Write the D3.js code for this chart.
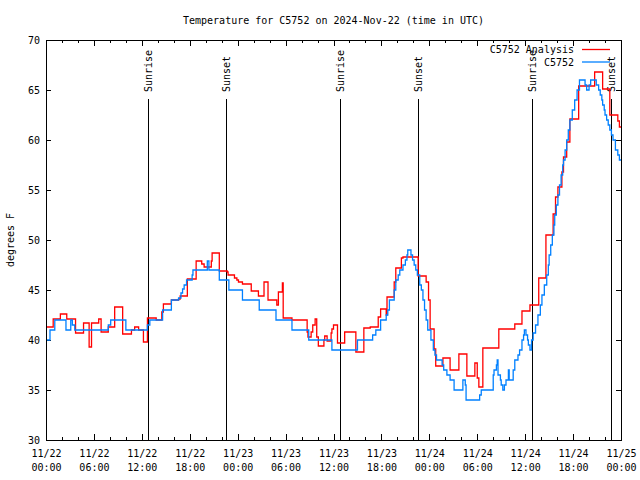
<!DOCTYPE html>
<html><head><meta charset="utf-8">
<script src="https://cdn.jsdelivr.net/npm/d3@7"></script>
<style>
body{margin:0;background:#fff}
svg{display:block}
text{font-family:"DejaVu Sans Mono",monospace;font-size:10px;fill:#000}
</style></head>
<body><svg id="c" width="640" height="480"></svg>
<script>
// ---- data (hours since 2024-11-22 00:00 UTC, degrees F) ----
const titleText = "Temperature for C5752 on 2024-Nov-22 (time in UTC)";
const yLabel = "degrees F";
const majorHours = [0,6,12,18,24,30,36,42,48,54,60,66,72];
const dateLabels = ["11/22","11/22","11/22","11/22","11/23","11/23","11/23","11/23","11/24","11/24","11/24","11/24","11/25"];
const timeLabels = ["00:00","06:00","12:00","18:00","00:00","06:00","12:00","18:00","00:00","06:00","12:00","18:00","00:00"];
const yTicks = [30,35,40,45,50,55,60,65,70];
const sunLabels = ["Sunrise","Sunset","Sunrise","Sunset","Sunrise","Sunset"];
const sunHours = [12.8,22.6,36.8,46.6,60.9,70.7];
const seriesNames = ["C5752 Analysis","C5752"];
const seriesColors = ["#ff0000","#0080ff"];

const analysis = [
[0.0,41.3],[0.9,42.1],[1.8,42.6],[2.6,42.1],[3.7,40.7],[4.7,41.7],[5.4,39.3],[5.7,41.7],[6.6,42.1],[6.9,40.8],
[7.8,41.3],[8.6,43.3],[9.6,40.6],[10.7,41.0],[11.1,41.3],[11.6,41.0],[12.2,39.8],[12.7,42.2],[13.8,42.0],[14.5,42.8],
[14.7,43.6],[15.7,44.0],[16.6,44.1],[16.8,44.4],[17.7,46.1],[18.8,47.9],[19.5,47.6],[19.8,47.3],[20.7,47.9],[20.8,48.7],
[21.7,46.9],[22.7,46.8],[22.8,46.5],[23.6,46.2],[23.9,46.0],[24.1,45.8],[24.6,45.6],[25.7,44.9],[26.6,44.4],[27.3,45.8],
[27.8,44.0],[28.9,43.5],[29.1,44.8],[29.6,45.7],[29.7,42.2],[30.8,42.0],[32.7,40.8],[32.8,40.3],[33.2,40.8],[33.4,41.5],
[33.7,42.1],[33.9,40.3],[34.1,39.4],[34.8,40.0],[34.9,40.4],[35.2,39.9],[35.7,40.7],[35.8,41.1],[36.0,41.5],[36.5,39.7],
[37.4,40.8],[38.8,38.8],[39.8,41.2],[40.6,41.3],[41.6,42.3],[41.9,43.1],[42.6,42.5],[42.7,44.3],[43.6,45.8],[43.8,47.2],
[44.5,48.2],[44.7,48.3],[46.6,46.4],[47.6,45.8],[47.9,44.0],[48.1,41.1],[48.6,39.1],[48.8,37.4],[49.7,38.2],[50.6,37.0],
[51.7,38.6],[52.7,36.4],[53.7,37.7],[54.0,36.2],[54.2,35.3],[54.7,39.2],[56.7,41.1],[58.7,41.6],[59.6,42.9],[60.6,43.5],
[61.7,46.2],[62.6,50.5],[63.5,52.6],[63.8,54.3],[64.1,55.3],[64.6,56.8],[64.8,58.3],[65.2,59.8],[65.6,62.1],[66.7,65.4],
[68.7,66.8],[69.7,65.1],[70.6,62.5],[71.6,61.9],[71.8,61.3],[72.0,61.3]
];

const station = [
[0.0,40.0],[0.5,41.0],[1.1,42.0],[2.5,41.0],[3.1,42.0],[3.3,41.5],[3.6,41.0],[7.8,41.5],[8.1,42.0],[10.0,41.0],
[12.7,41.5],[13.0,42.0],[14.6,43.0],[15.7,44.0],[16.6,44.2],[16.9,44.7],[17.1,45.1],[17.3,45.5],[17.6,46.0],[18.3,46.5],
[18.4,47.0],[20.2,47.9],[20.4,47.0],[21.7,46.0],[22.9,45.0],[24.6,44.0],[26.7,43.0],[28.8,42.0],[30.8,41.0],[32.9,40.0],
[35.8,39.0],[39.0,40.0],[40.9,40.5],[41.3,41.0],[41.9,42.0],[42.6,42.5],[42.8,43.0],[43.0,44.0],[43.6,45.0],[43.8,46.0],
[44.1,46.5],[44.3,47.0],[44.7,47.5],[45.0,48.0],[45.2,48.5],[45.3,49.0],[45.7,48.5],[45.9,48.0],[46.1,47.5],[46.3,47.0],
[46.5,46.5],[46.8,45.5],[47.0,45.0],[47.2,44.0],[47.4,43.0],[47.6,42.0],[47.8,41.0],[48.2,40.0],[48.5,39.0],[48.7,38.5],
[48.9,38.0],[49.6,37.5],[49.8,37.0],[50.2,36.5],[50.6,36.0],[51.1,35.0],[52.2,36.0],[52.5,35.5],[52.6,34.0],[54.3,34.5],
[54.5,35.0],[56.0,36.5],[56.1,37.0],[56.4,37.5],[56.5,38.0],[56.6,36.5],[56.9,36.0],[57.0,35.5],[57.2,35.0],[57.4,35.5],
[57.6,36.0],[57.9,37.0],[58.0,36.0],[58.5,37.0],[58.7,38.0],[59.1,38.5],[59.3,39.0],[59.6,40.0],[59.8,40.5],[59.9,41.0],
[60.1,40.5],[60.3,40.0],[60.4,39.5],[60.6,39.0],[60.8,40.0],[61.0,40.7],[61.3,41.5],[61.6,42.5],[61.9,43.5],[62.1,44.5],
[62.4,45.5],[62.7,46.5],[62.9,47.5],[63.0,48.5],[63.2,49.5],[63.4,50.5],[63.6,51.5],[63.7,52.5],[63.9,53.5],[64.1,54.5],
[64.3,55.5],[64.5,56.5],[64.7,57.5],[64.8,58.0],[65.0,59.0],[65.2,60.0],[65.4,61.0],[65.6,62.0],[65.9,63.0],[66.2,64.0],
[66.5,65.0],[66.8,66.0],[67.5,65.5],[67.7,65.0],[68.0,65.5],[68.2,66.0],[68.9,65.5],[69.0,65.5],[69.2,65.0],[69.4,64.5],
[69.6,64.0],[69.7,63.5],[69.9,63.0],[70.0,62.5],[70.2,62.0],[70.4,61.5],[70.6,61.0],[70.8,60.5],[71.0,60.0],[71.3,59.0],
[71.6,58.5],[71.8,58.0],[72.0,58.0]
];

// ---- drawing ----
const svg = d3.select("#c");
const L = 46, R = 621, T = 40, B = 440;
const x = d3.scaleLinear().domain([0,72]).range([L,R]);
const y = d3.scaleLinear().domain([30,70]).range([B,T]);
const minorHours = d3.range(0,73,2);

// title
svg.append("text").attr("x",(L+R)/2).attr("y",24).attr("text-anchor","middle").text(titleText);
// y label
svg.append("text").attr("transform","translate(14,240) rotate(-90)").attr("text-anchor","middle").text(yLabel);

// axes
const axG = svg.append("g").attr("shape-rendering","crispEdges");
axG.append("g").attr("transform",`translate(0,${B})`)
  .call(d3.axisBottom(x).tickValues(minorHours).tickSize(-3).tickFormat(""))
  .call(g=>g.select(".domain").remove());
const bx = axG.append("g").attr("transform",`translate(0,${B})`)
  .call(d3.axisBottom(x).tickValues(majorHours).tickSize(-6).tickPadding(10).tickFormat(()=>""))
  .call(g=>g.select(".domain").remove());
bx.selectAll(".tick text").each(function(d,i){
  const t = d3.select(this).attr("dy",null).attr("y",457-B);
  t.append("tspan").attr("x",0).attr("dy",0).text(dateLabels[i]);
  t.append("tspan").attr("x",0).attr("dy",14).text(timeLabels[i]);
});
axG.append("g").attr("transform",`translate(0,${T})`)
  .call(d3.axisTop(x).tickValues(minorHours).tickSize(-3).tickFormat(""))
  .call(g=>g.select(".domain").remove());
axG.append("g").attr("transform",`translate(0,${T})`)
  .call(d3.axisTop(x).tickValues(majorHours).tickSize(-6).tickFormat(""))
  .call(g=>g.select(".domain").remove());
axG.append("g").attr("transform",`translate(${L},0)`)
  .call(d3.axisLeft(y).tickValues(yTicks).tickSize(-5).tickPadding(6).tickFormat(d3.format("d")))
  .call(g=>g.select(".domain").remove());
axG.append("g").attr("transform",`translate(${R},0)`)
  .call(d3.axisRight(y).tickValues(yTicks).tickSize(-5).tickFormat(""))
  .call(g=>g.select(".domain").remove());
axG.selectAll(".tick line").attr("stroke","#000");
axG.selectAll(".tick text").attr("fill","#000");

// sunrise / sunset
const sun = svg.append("g");
sun.selectAll("line").data(sunHours).join("line")
  .attr("x1",d=>Math.round(x(d))+0.5).attr("x2",d=>Math.round(x(d))+0.5)
  .attr("y1",99).attr("y2",B).attr("stroke","#000").attr("stroke-width",1);
sun.selectAll("text").data(sunHours).join("text")
  .attr("transform",d=>`translate(${Math.round(x(d))+4},92) rotate(-90)`)
  .attr("text-anchor","start").text((d,i)=>sunLabels[i]);

// series
const line = d3.line().x(d=>x(d[0])).y(d=>y(d[1])).curve(d3.curveStepAfter);
[analysis, station].forEach((s,i)=>{
  svg.append("path").datum(s).attr("d",line).attr("fill","none")
    .attr("stroke",seriesColors[i]).attr("stroke-width",1.3);
});

// legend
seriesNames.forEach((n,i)=>{
  const ly = 49.5 + i*12.5;
  svg.append("text").attr("x",574).attr("y",ly+3.5).attr("text-anchor","end").text(n);
  svg.append("line").attr("x1",582).attr("x2",610).attr("y1",ly).attr("y2",ly)
    .attr("stroke",seriesColors[i]).attr("stroke-width",1.3);
});

// border
svg.append("rect").attr("x",L+0.5).attr("y",T+0.5).attr("width",R-L).attr("height",B-T)
  .attr("fill","none").attr("stroke","#000").attr("shape-rendering","crispEdges");
</script></body></html>
